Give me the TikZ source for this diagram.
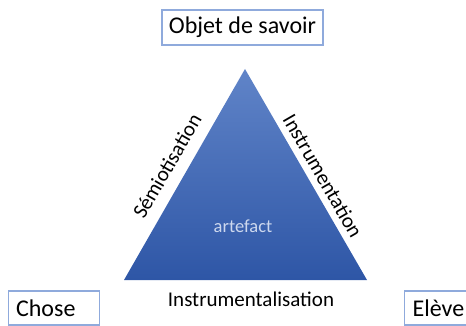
\documentclass[tikz,border=0pt]{standalone}
\usepackage{fontspec}
\setmainfont{Carlito}
\definecolor{boxline}{RGB}{143,170,220}
\definecolor{triTop}{RGB}{96,132,200}
\definecolor{triBot}{RGB}{46,86,166}
\definecolor{artcol}{RGB}{205,216,238}
\tikzset{
  labelbox/.style={draw=boxline, line width=1.2pt, fill=white, inner sep=0pt, font=\fontsize{24}{28}\selectfont},
  edgelabel/.style={font=\fontsize{21}{24}\selectfont, inner sep=0pt}
}
\begin{document}
\begin{tikzpicture}[x=1pt,y=-1pt]
\useasboundingbox (0,0) rectangle (466,326);
\clip (0,0) rectangle (466,326);
% triangle
\coordinate (apex) at (245,69);
\coordinate (bl) at (124,280);
\coordinate (br) at (367,280);
\shade[top color=triTop, bottom color=triBot] (apex) -- (br) -- (bl) -- cycle;
% boxes
\node[labelbox, minimum width=161pt, minimum height=35pt] (objet) at (242.5,27.5) {Objet de savoir};
\node[labelbox, anchor=west, minimum height=34pt, text width=76pt, inner xsep=7.5pt, align=left] (chose) at (8,308) {Chose};
\node[labelbox, anchor=west, minimum height=34pt, text width=70pt, inner xsep=8pt, align=left] (eleve) at (404,308) {Elève};
% labels
\node[edgelabel, rotate=60] (semio) at (167,166) {Sémiotisation};
\node[edgelabel, rotate=-60] (instru) at (323,176) {Instrumentation};
\node[edgelabel, anchor=base] (instal) at (251,306) {Instrumentalisation};
\node[font=\fontsize{18.5}{22}\selectfont, text=artcol, anchor=base, inner sep=0pt] (art) at (243,233) {artefact};
\end{tikzpicture}
\end{document}
